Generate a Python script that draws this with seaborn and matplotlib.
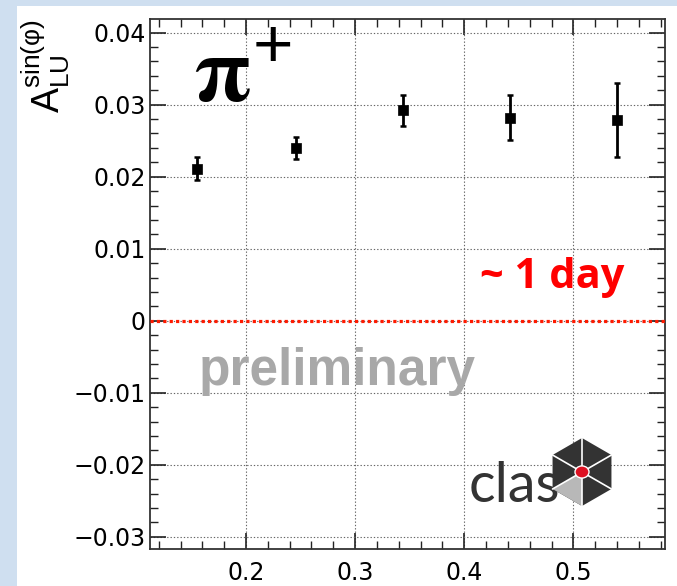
import matplotlib
matplotlib.use("Agg")
import numpy as np
import pandas as pd
import seaborn as sns
import matplotlib.pyplot as plt
from matplotlib.patches import Rectangle, Polygon, Circle
from matplotlib.ticker import MultipleLocator

# ---- data ----
x_vals = [0.155, 0.246, 0.344, 0.442, 0.540]
y_vals = [0.0211, 0.0240, 0.0292, 0.0282, 0.0279]
y_err = [0.0016, 0.0015, 0.0021, 0.0031, 0.0051]
x_ticks = [0.2, 0.3, 0.4, 0.5]
x_tick_labels = ["0.2", "0.3", "0.4", "0.5"]
y_ticks = [-0.03, -0.02, -0.01, 0.0, 0.01, 0.02, 0.03, 0.04]
y_tick_labels = ["\u22120.03", "\u22120.02", "\u22120.01", "0", "0.01", "0.02", "0.03", "0.04"]

df = pd.DataFrame({"x": x_vals, "y": y_vals, "err": y_err})

sns.set_theme(style="white")
plt.rcParams["font.family"] = ["Liberation Sans", "DejaVu Sans"]
plt.rcParams["mathtext.fontset"] = "custom"
plt.rcParams["mathtext.rm"] = "Liberation Sans"
plt.rcParams["mathtext.it"] = "Liberation Sans:italic"

W, H = 677, 586
fig = plt.figure(figsize=(W / 100, H / 100), dpi=100, facecolor="#cfdff0")
fig.patches.append(Rectangle((17 / W, 0), 1, 1 - 6 / H, transform=fig.transFigure,
                             facecolor="white", edgecolor="none", zorder=-5))

ax = fig.add_axes([150 / W, 37 / H, 515 / W, 530 / H])
ax.set_facecolor("white")

ax.set_xlim(0.112, 0.584)
ax.set_ylim(-0.0317, 0.0419)

# grid
ax.set_xticks(x_ticks)
ax.set_xticklabels(x_tick_labels)
ax.set_yticks(y_ticks)
ax.set_yticklabels(y_tick_labels)
ax.xaxis.set_minor_locator(MultipleLocator(0.02))
ax.yaxis.set_minor_locator(MultipleLocator(0.002))
ax.grid(True, which="major", color="#666666", linestyle=(0, (1.2, 1.8)), linewidth=0.8)

# zero line
ax.axhline(0, color="#ff1a00", linestyle=(0, (1, 1)), linewidth=2.3, zorder=3)

# data
ax.errorbar(df["x"], df["y"], yerr=df["err"], fmt="none", ecolor="black",
            elinewidth=2, capsize=2.5, capthick=1.8, zorder=4)
sns.scatterplot(data=df, x="x", y="y", marker="s", color="black", s=55,
                edgecolor="black", linewidth=0.5, ax=ax, zorder=5, legend=False)
ax.set_xlabel("")
ax.set_ylabel("")

# ticks
ax.tick_params(axis="both", which="major", direction="in", length=11.5, width=1.2,
               top=True, right=True, bottom=True, left=True, labelsize=17,
               colors="#222222", labelcolor="black")
ax.tick_params(axis="y", which="major", pad=3)
ax.tick_params(axis="x", which="major", pad=9)
ax.tick_params(axis="both", which="minor", direction="in", length=5.8, width=1.0,
               top=True, right=True, bottom=True, left=True, colors="#222222")
for lab in ax.get_xticklabels() + ax.get_yticklabels():
    lab.set_family(["DejaVu Sans"])
for s in ax.spines.values():
    s.set_color("#333333")
    s.set_linewidth(1.3)

# y label
fig.text(46 / W, 1 - 19 / H, "$\\mathrm{A}_{\\mathrm{LU}}^{\\mathrm{sin(\u03c6)}}$",
         rotation=90, ha="center", va="top", fontsize=27, color="black")

# annotations
fig.text(222 / W, 1 - 101 / H, r"$\mathbf{\pi}$", fontsize=66, color="black",
         math_fontfamily="stix", ha="center", va="baseline")
fig.text(273 / W, 1 - 67 / H, "+", fontsize=50, color="black",
         family=["Liberation Sans", "DejaVu Sans"], ha="center", va="baseline")
fig.text(552 / W, 1 - 277 / H, "~ 1 day", fontsize=30, color="#ff0000",
         fontweight="bold", family=["Open Sans", "DejaVu Sans"], ha="center", va="center")
fig.text(337 / W, 1 - 371 / H, "preliminary", fontsize=37, color="#a8a8a8",
         fontweight="bold", ha="center", va="center")

# clas logo
fig.text(514 / W, 1 - 502 / H, "clas", fontsize=40, color="#333333",
         family=["Lato", "DejaVu Sans"], ha="center", va="baseline")
cx, cy, r = 582, 472, 34
ang = np.deg2rad(np.arange(90, 450, 60))
hx = cx + r * np.cos(ang)
hy = cy - r * np.sin(ang)
verts = [((px) / W, 1 - py / H) for px, py in zip(hx, hy)]
fig.patches.append(Polygon(verts, closed=True, transform=fig.transFigure,
                           facecolor="#333333", edgecolor="none", zorder=5))
face = [(cx / W, 1 - cy / H), verts[2], verts[3]]
fig.patches.append(Polygon(face, closed=True, transform=fig.transFigure,
                           facecolor="#b8b8b8", edgecolor="none", zorder=6))
for v in verts:
    fig.lines.append(plt.Line2D([cx / W, v[0]], [1 - cy / H, v[1]],
                                transform=fig.transFigure, color="white", lw=1.2, zorder=7))
fig.patches.append(Circle((cx / W, 1 - cy / H), 7 / W, transform=fig.transFigure,
                          facecolor="#dd1122", edgecolor="white", lw=1, zorder=8))

fig.savefig("out.png", dpi=100, facecolor=fig.get_facecolor())
